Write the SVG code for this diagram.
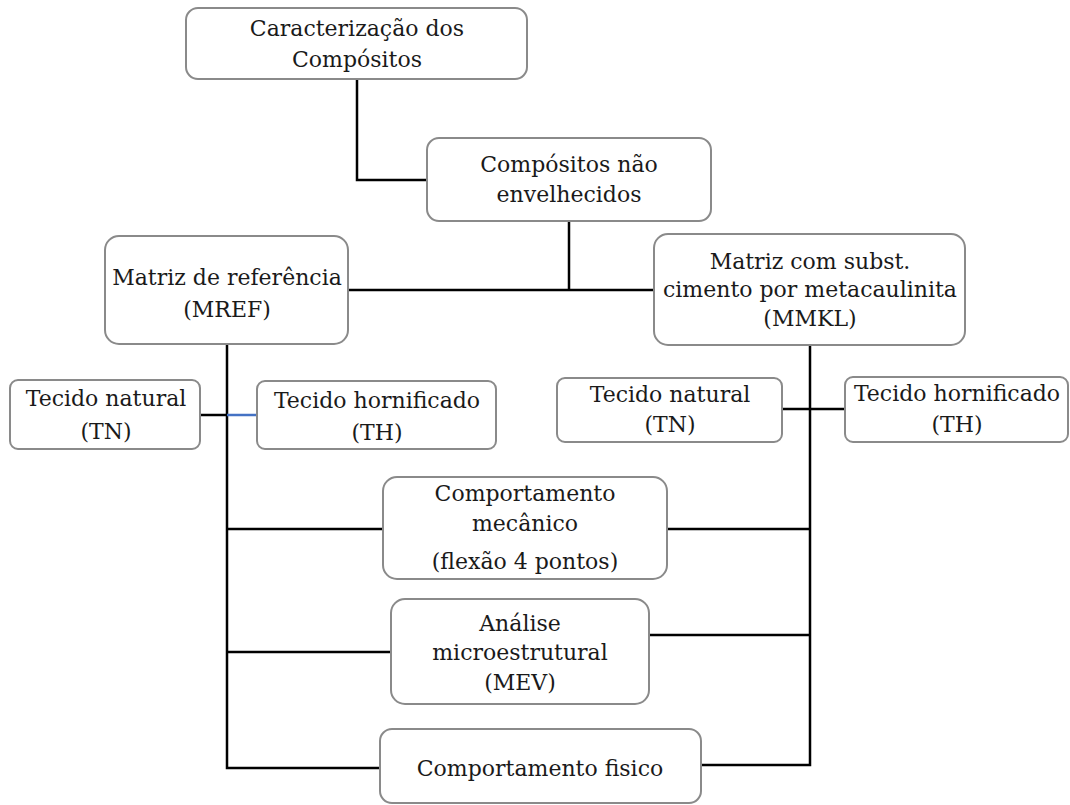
<svg xmlns="http://www.w3.org/2000/svg" width="1070" height="805" viewBox="0 0 1070 805">
<style>
.box{fill:#fff;stroke:#8a8a8a;stroke-width:2}
.t{font-family:'DejaVu Serif','Liberation Serif',serif;font-size:22px;fill:#1a1a1a;text-anchor:middle}
.c{fill:none;stroke:#000;stroke-width:2.5}
.cb{fill:none;stroke:#4472c4;stroke-width:2.5}
</style>
<rect width="1070" height="805" fill="#fff"/>
<g id="connectors">
<polyline class="c" points="357,79 357,180 427,180"/>
<line class="c" x1="569" y1="221" x2="569" y2="290"/>
<line class="c" x1="348" y1="290" x2="654" y2="290"/>
<polyline class="c" points="227,344 227,768 380,768"/>
<line class="c" x1="200" y1="415" x2="227" y2="415"/>
<line class="cb" x1="227" y1="415" x2="257" y2="415"/>
<line class="c" x1="227" y1="529" x2="383" y2="529"/>
<line class="c" x1="227" y1="652" x2="391" y2="652"/>
<polyline class="c" points="810,345 810,765 701,765"/>
<line class="c" x1="782" y1="409" x2="845" y2="409"/>
<line class="c" x1="667" y1="529" x2="810" y2="529"/>
<line class="c" x1="649" y1="635" x2="810" y2="635"/>
</g>
<g id="n1"><rect class="box" x="186" y="8" width="341" height="71" rx="12"/>
<text class="t" x="357" y="36">Caracterização dos</text><text class="t" x="357" y="67">Compósitos</text></g>
<g id="n2"><rect class="box" x="427" y="138" width="284" height="83" rx="12"/>
<text class="t" x="569" y="172">Compósitos não</text><text class="t" x="569" y="202">envelhecidos</text></g>
<g id="n3"><rect class="box" x="105" y="236" width="243" height="108" rx="14"/>
<text class="t" x="227" y="285">Matriz de referência</text><text class="t" x="227" y="317">(MREF)</text></g>
<g id="n4"><rect class="box" x="654" y="234" width="311" height="111" rx="14"/>
<text class="t" x="810" y="269">Matriz com subst.</text><text class="t" x="810" y="297">cimento por metacaulinita</text><text class="t" x="810" y="326">(MMKL)</text></g>
<g id="n5"><rect class="box" x="10" y="380" width="190" height="69" rx="8"/>
<text class="t" x="106" y="406">Tecido natural</text><text class="t" x="106" y="439">(TN)</text></g>
<g id="n6"><rect class="box" x="257" y="381" width="239" height="68" rx="8"/>
<text class="t" x="377" y="408">Tecido hornificado</text><text class="t" x="377" y="440">(TH)</text></g>
<g id="n7"><rect class="box" x="557" y="378" width="225" height="64" rx="8"/>
<text class="t" x="670" y="402">Tecido natural</text><text class="t" x="670" y="432">(TN)</text></g>
<g id="n8"><rect class="box" x="845" y="377" width="223" height="65" rx="8"/>
<text class="t" x="957" y="401">Tecido hornificado</text><text class="t" x="957" y="432">(TH)</text></g>
<g id="n9"><rect class="box" x="383" y="477" width="284" height="102" rx="14"/>
<text class="t" x="525" y="501">Comportamento</text><text class="t" x="525" y="531">mecânico</text><text class="t" x="525" y="569">(flexão 4 pontos)</text></g>
<g id="n10"><rect class="box" x="391" y="599" width="258" height="105" rx="14"/>
<text class="t" x="520" y="631">Análise</text><text class="t" x="520" y="660">microestrutural</text><text class="t" x="520" y="690">(MEV)</text></g>
<g id="n11"><rect class="box" x="380" y="729" width="321" height="74" rx="12"/>
<text class="t" x="540" y="776">Comportamento fisico</text></g>
</svg>
